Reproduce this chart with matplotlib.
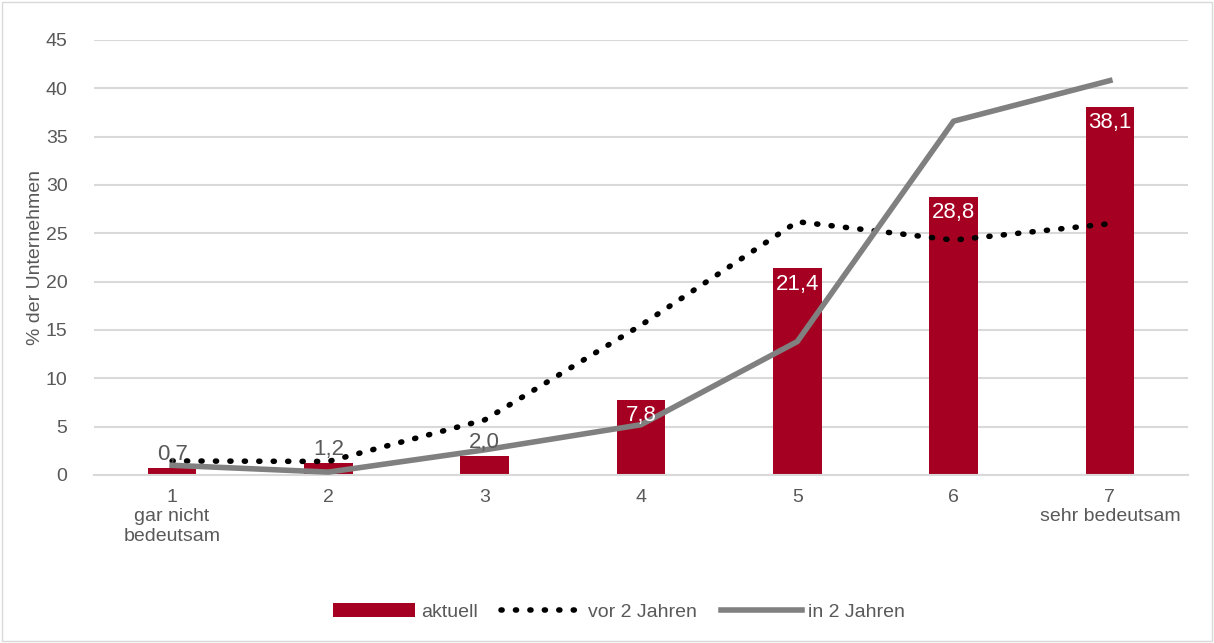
import numpy as np
import matplotlib.pyplot as plt
from matplotlib.patches import Rectangle

plt.rcParams['font.family'] = ['Liberation Sans', 'DejaVu Sans']

# Daten
kategorien = ['1\ngar nicht\nbedeutsam', '2', '3', '4', '5', '6', '7\nsehr bedeutsam']
aktuell = [0.7, 1.2, 2.0, 7.8, 21.4, 28.8, 38.1]
vor_2_jahren = [1.45, 1.4, 5.7, 15.5, 26.2, 24.3, 26.0]
in_2_jahren = [1.0, 0.3, 2.6, 5.2, 13.8, 36.6, 40.8]

grau_text = '#595959'
rot = '#A50021'

fig = plt.figure(figsize=(12.14, 6.43), dpi=100)
ax = fig.add_axes([0.0774, 0.2613, 0.9012, 0.6765])

x = np.arange(1, len(kategorien) + 1)
b = ax.bar(x, aktuell, width=0.31, color=rot, label='aktuell', zorder=2)
l1, = ax.plot(x, vor_2_jahren, color='black', linestyle=(0, (0.2, 2.4)), linewidth=4,
              dash_capstyle='round', label='vor 2 Jahren', zorder=3)
l2, = ax.plot(x, in_2_jahren, color='#808080', linewidth=4, label='in 2 Jahren', zorder=3)

# Datenbeschriftungen
for xi, v in zip(x, aktuell):
    txt = f'{v:.1f}'.replace('.', ',')
    if v < 5:
        ax.text(xi, v + 0.3, txt, ha='center', va='bottom', fontsize=16, color=grau_text, zorder=4)
    else:
        ax.text(xi, v - 0.6, txt, ha='center', va='top', fontsize=16, color='white', zorder=4)

ax.set_xlim(0.5, 7.5)
ax.set_ylim(0, 45)
ax.set_yticks(np.arange(0, 46, 5))
ax.set_xticks(x)
ax.set_xticklabels(kategorien)
ax.tick_params(axis='both', length=0, labelsize=14, colors=grau_text)
ax.tick_params(axis='x', pad=10)
ax.tick_params(axis='y', pad=19)
ax.grid(axis='y', color='#D9D9D9', linewidth=1.5, zorder=0)
ax.set_axisbelow(True)
for s in ['top', 'right', 'left']:
    ax.spines[s].set_visible(False)
ax.spines['bottom'].set_color('#D9D9D9')
ax.spines['bottom'].set_linewidth(1.5)

ax.set_ylabel('% der Unternehmen', fontsize=14, color=grau_text, labelpad=1)

leg = fig.legend([b, l1, l2], ['aktuell', 'vor 2 Jahren', 'in 2 Jahren'],
                 loc='center', bbox_to_anchor=(0.51, 0.048), ncol=3, frameon=False,
                 fontsize=14, handlelength=4.2, columnspacing=1.2, handletextpad=0.3)
for t in leg.get_texts():
    t.set_color(grau_text)

# Rahmen um die Grafik
fig.patches.append(Rectangle((0.002, 0.003), 0.996, 0.994, transform=fig.transFigure,
                             fill=False, edgecolor='#D9D9D9', linewidth=1))

plt.savefig('out.png', dpi=100)
